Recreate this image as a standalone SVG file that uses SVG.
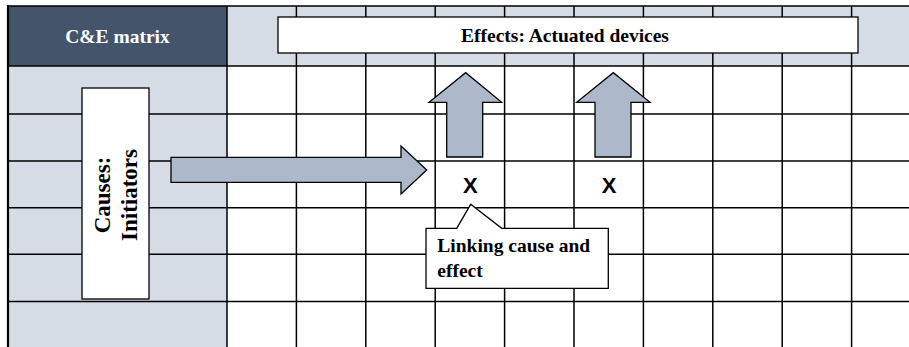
<svg xmlns="http://www.w3.org/2000/svg" width="909" height="347" viewBox="0 0 909 347">
  <style>
    .grid { stroke: #000; stroke-width: 1.5; fill: none; }
    .hdr { fill: #D6DCE5; }
    .dark { fill: #44546A; }
    .box { fill: #fff; stroke: #000; stroke-width: 1.3; }
    .arrow { fill: #ADB9CA; stroke: #000; stroke-width: 1.3; stroke-linejoin: miter; }
    .lbl { font-family: "Liberation Serif", "Times New Roman", serif; font-weight: bold; font-size: 19.5px; fill: #000; }
    .mark { font-family: "Liberation Sans", Arial, sans-serif; font-weight: bold; font-size: 22px; fill: #000; text-anchor: middle; }
  </style>

  <rect x="0" y="0" width="909" height="347" fill="#fff"/>

  <!-- matrix background: header strip and cause column -->
  <g id="matrix">
    <rect class="hdr" x="227" y="6" width="682" height="60"/>
    <rect class="hdr" x="8" y="66" width="219" height="281"/>
    <rect class="dark" x="8" y="6" width="219" height="60"/>
    <g class="grid">
      <path d="M8,6 H909 M8,66 H909 M8,114 H909 M8,161 H909 M8,207.7 H909 M8,254.3 H909 M8,301.5 H909"/>
      <path d="M227,6 V347 M296.4,6 V347 M365.8,6 V347 M435.2,6 V347 M504.6,6 V347 M574,6 V347 M643.4,6 V347 M712.8,6 V347 M782.2,6 V347 M851.6,6 V347"/>
    </g>
    <path d="M8,5 V347" stroke="#000" stroke-width="2.2"/>
  </g>

  <g id="title">
    <text class="lbl" x="117.5" y="43" text-anchor="middle" style="fill:#fff">C&amp;E matrix</text>
  </g>

  <g id="effects">
    <rect class="box" x="278" y="17" width="580" height="36"/>
    <text class="lbl" x="565" y="41.5" text-anchor="middle">Effects: Actuated devices</text>
  </g>

  <g id="causes">
    <rect class="box" x="82" y="88" width="67" height="211"/>
    <text class="lbl" transform="translate(110,195) rotate(-90)" text-anchor="middle" style="font-size:23px">Causes:</text>
    <text class="lbl" transform="translate(136.5,195) rotate(-90)" text-anchor="middle" style="font-size:23px">Initiators</text>
  </g>

  <!-- block arrows -->
  <g id="connectors">
    <path id="arrow-right" class="arrow" d="M171,157.3 H401 V146 L426.7,170 L401,194 V182.3 H171 Z"/>
    <path id="arrow-up-1" class="arrow" d="M446.7,157 V102.3 H429 L465.7,72.7 L501.7,102.3 H482.7 V157 Z"/>
    <path id="arrow-up-2" class="arrow" d="M595,157 V102.3 H576.7 L613.3,72.7 L650,102.3 H631 V157 Z"/>
  </g>

  <g id="links">
    <text class="mark" x="470.3" y="193.3">X</text>
    <text class="mark" x="609" y="193.3">X</text>
  </g>

  <g id="callout">
    <path class="box" d="M426,228.3 H456.7 L470.7,204.3 L501.7,228.3 H608.3 V288.3 H426 Z"/>
    <text class="lbl" x="437.3" y="252.3">Linking cause and</text>
    <text class="lbl" x="437.3" y="276.7">effect</text>
  </g>
</svg>
